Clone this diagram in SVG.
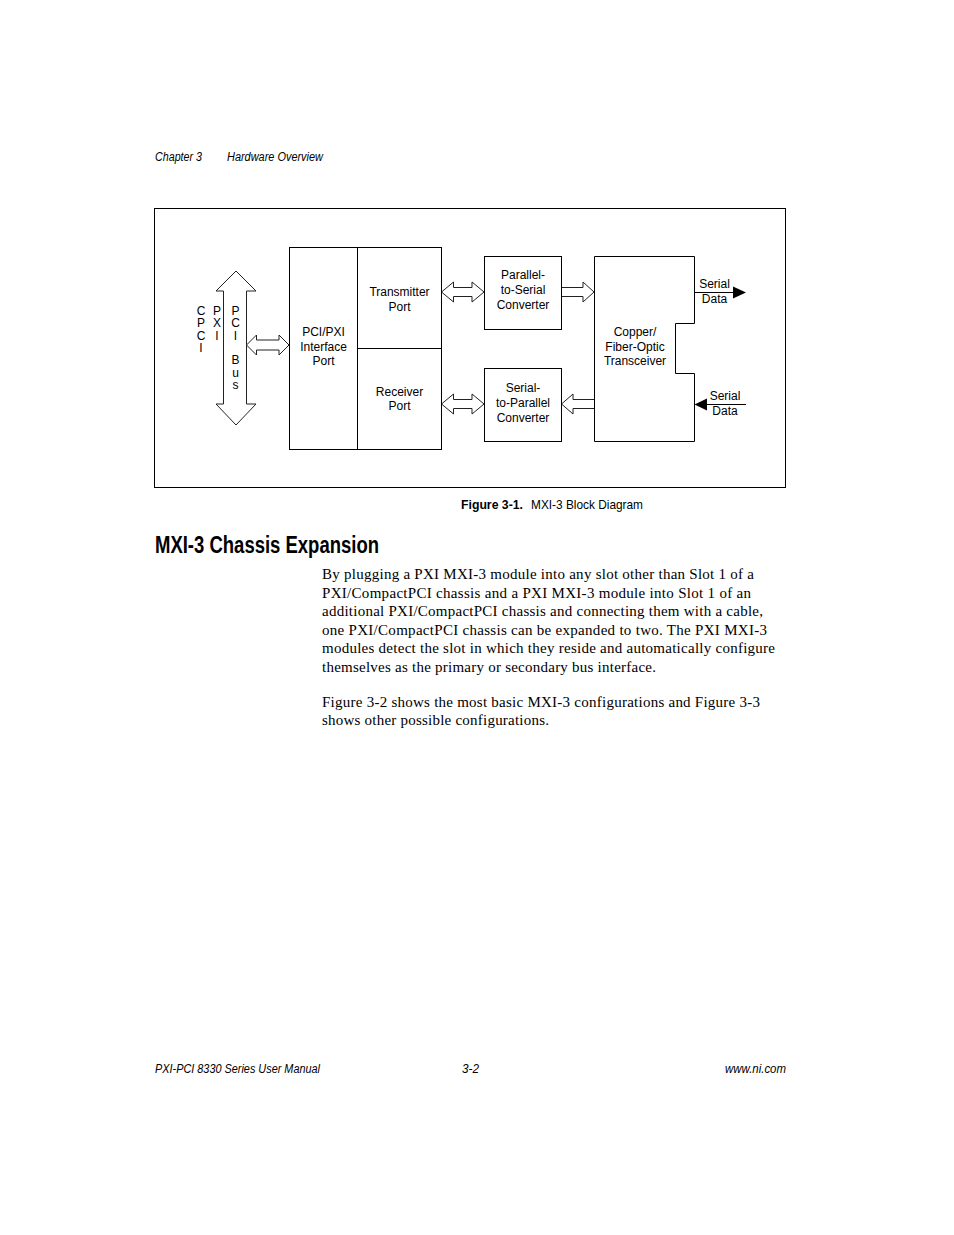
<svg xmlns="http://www.w3.org/2000/svg" width="954" height="1235" viewBox="0 0 954 1235">
<style>
.box{fill:#fff;stroke:#000;stroke-width:1}
.ha{fill:#fff;stroke:#222;stroke-width:1;stroke-linejoin:miter}
.t{font-family:"Liberation Sans",Arial,sans-serif;font-size:12px;fill:#000;text-anchor:middle}
.hdr{font-family:"Liberation Sans Narrow","Liberation Sans",Arial,sans-serif;font-style:italic;font-size:12px;fill:#000}
.body{font-family:"Liberation Serif","Times New Roman",serif;font-size:15px;fill:#000}
.cap{font-family:"Liberation Sans Narrow","Liberation Sans",Arial,sans-serif;font-size:13px;fill:#000}
</style>
<rect width="954" height="1235" fill="#fff"/>
<text class="hdr" x="155" y="161" textLength="47" lengthAdjust="spacingAndGlyphs">Chapter 3</text>
<text class="hdr" x="227" y="161" textLength="96" lengthAdjust="spacingAndGlyphs">Hardware Overview</text>
<rect x="154.5" y="208.5" width="631" height="279" fill="none" stroke="#000" stroke-width="1"/>
<g id="connectors">
<path class="ha" d="M236,271 L256,291 L246.5,291 L246.5,404 L256,404 L236,425 L216,404 L223.5,404 L223.5,291 L216,291 Z"/>
<path class="ha" d="M246.5,345 L256.5,335 L256.5,340 L279,340 L279,335 L289,345 L279,355 L279,350 L256.5,350 L256.5,355 Z"/>
<path class="ha" d="M441.5,292 L453.5,282 L453.5,287.5 L472,287.5 L472,282 L484,292 L472,302 L472,296.5 L453.5,296.5 L453.5,302 Z"/>
<path class="ha" d="M441.5,404 L453.5,394 L453.5,399.5 L472,399.5 L472,394 L484,404 L472,414 L472,408.5 L453.5,408.5 L453.5,414 Z"/>
<path class="ha" d="M561.5,287.5 L583,287.5 L583,282 L594,292 L583,302 L583,296.5 L561.5,296.5"/>
<path class="ha" d="M594,399.5 L573,399.5 L573,394 L561.5,404 L573,414 L573,408.5 L594,408.5"/>
<line x1="694.5" y1="292.5" x2="734" y2="292.5" stroke="#000" stroke-width="1"/>
<path d="M733,286.5 L746,292.5 L733,298.5 Z" fill="#000"/>
<line x1="746" y1="404.5" x2="706" y2="404.5" stroke="#000" stroke-width="1"/>
<path d="M707,398.5 L694.5,404.5 L707,410.5 Z" fill="#000"/>
</g>
<g id="bus-labels">
<text class="t" font-size="11" x="201" y="315">C</text>
<text class="t" font-size="11" x="201" y="327.3">P</text>
<text class="t" font-size="11" x="201" y="339.6">C</text>
<text class="t" font-size="11" x="201" y="352">I</text>
<text class="t" font-size="11" x="217" y="315">P</text>
<text class="t" font-size="11" x="217" y="327.3">X</text>
<text class="t" font-size="11" x="217" y="339.6">I</text>
<text class="t" font-size="11" x="235.5" y="315">P</text>
<text class="t" font-size="11" x="235.5" y="327.3">C</text>
<text class="t" font-size="11" x="235.5" y="339.6">I</text>
<text class="t" font-size="11" x="235.5" y="364.2">B</text>
<text class="t" font-size="11" x="235.5" y="376.5">u</text>
<text class="t" font-size="11" x="235.5" y="388.8">s</text>
</g>
<g id="pci-interface">
<rect class="box" x="289.5" y="247.5" width="68" height="202"/>
<text class="t" x="323.5" y="336">PCI/PXI</text>
<text class="t" x="323.5" y="350.5">Interface</text>
<text class="t" x="323.5" y="365">Port</text>
</g>
<g id="transmitter-port">
<rect class="box" x="357.5" y="247.5" width="84" height="101"/>
<text class="t" x="399.5" y="296">Transmitter</text>
<text class="t" x="399.5" y="311">Port</text>
</g>
<g id="receiver-port">
<rect class="box" x="357.5" y="348.5" width="84" height="101"/>
<text class="t" x="399.5" y="395.5">Receiver</text>
<text class="t" x="399.5" y="410">Port</text>
</g>
<g id="p2s">
<rect class="box" x="484.5" y="256.5" width="77" height="73"/>
<text class="t" x="523" y="279">Parallel-</text>
<text class="t" x="523" y="294">to-Serial</text>
<text class="t" x="523" y="309">Converter</text>
</g>
<g id="s2p">
<rect class="box" x="484.5" y="368.5" width="77" height="73"/>
<text class="t" x="523" y="392">Serial-</text>
<text class="t" x="523" y="407">to-Parallel</text>
<text class="t" x="523" y="422">Converter</text>
</g>
<g id="transceiver">
<path class="box" d="M594.5,256.5 H694.5 V323.5 H675.5 V373.5 H694.5 V441.5 H594.5 Z"/>
<text class="t" x="635" y="336">Copper/</text>
<text class="t" x="635" y="351">Fiber-Optic</text>
<text class="t" x="635" y="365">Transceiver</text>
</g>
<g id="serial-out">
<text class="t" x="714.5" y="288">Serial</text>
<text class="t" x="714.5" y="302.5">Data</text>
</g>
<g id="serial-in">
<text class="t" x="725" y="400">Serial</text>
<text class="t" x="725" y="415">Data</text>
</g>
<text class="cap" x="461" y="508.5" font-weight="bold" textLength="62" lengthAdjust="spacingAndGlyphs">Figure 3-1.</text>
<text class="cap" x="531" y="508.5" textLength="112" lengthAdjust="spacingAndGlyphs">MXI-3 Block Diagram</text>
<text x="155" y="553" font-family="'Liberation Sans Narrow','Liberation Sans',Arial,sans-serif" font-weight="bold" font-size="23" textLength="224" lengthAdjust="spacingAndGlyphs">MXI-3 Chassis Expansion</text>
<text class="body" x="322" y="579" textLength="432">By plugging a PXI MXI-3 module into any slot other than Slot 1 of a</text>
<text class="body" x="322" y="597.5" textLength="429">PXI/CompactPCI chassis and a PXI MXI-3 module into Slot 1 of an</text>
<text class="body" x="322" y="616" textLength="441">additional PXI/CompactPCI chassis and connecting them with a cable,</text>
<text class="body" x="322" y="634.5" textLength="445">one PXI/CompactPCI chassis can be expanded to two. The PXI MXI-3</text>
<text class="body" x="322" y="653" textLength="453">modules detect the slot in which they reside and automatically configure</text>
<text class="body" x="322" y="671.5" textLength="334">themselves as the primary or secondary bus interface.</text>
<text class="body" x="322" y="706.5" textLength="438">Figure 3-2 shows the most basic MXI-3 configurations and Figure 3-3</text>
<text class="body" x="322" y="725" textLength="227">shows other possible configurations.</text>
<text class="hdr" x="155" y="1073" textLength="165" lengthAdjust="spacingAndGlyphs">PXI-PCI 8330 Series User Manual</text>
<text class="hdr" x="462" y="1073" textLength="17" lengthAdjust="spacingAndGlyphs">3-2</text>
<text class="hdr" x="725" y="1073" textLength="61" lengthAdjust="spacingAndGlyphs">www.ni.com</text>
</svg>
